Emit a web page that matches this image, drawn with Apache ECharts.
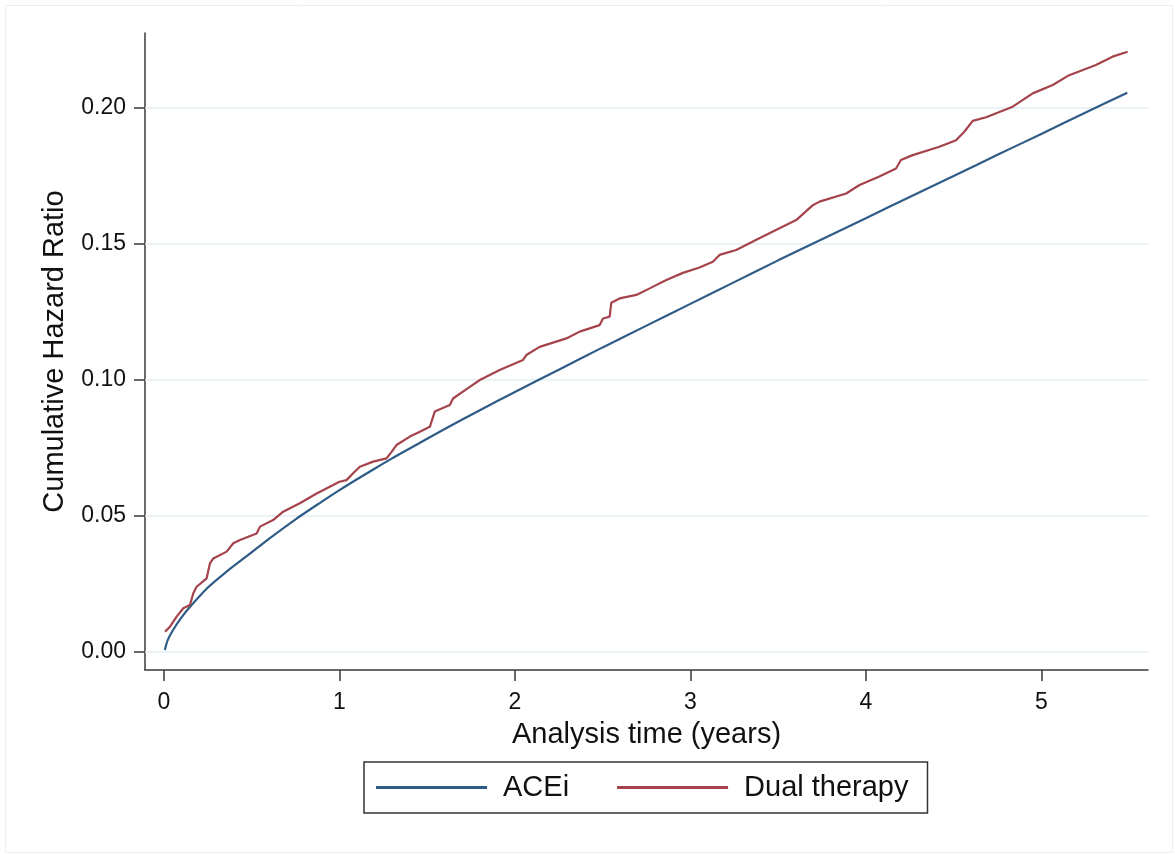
<!DOCTYPE html>
<html>
<head>
<meta charset="utf-8">
<script src="https://cdn.jsdelivr.net/npm/echarts@6/dist/echarts.min.js"></script>
<style>
html,body{margin:0;padding:0;background:#fff;}
#chart{width:1175px;height:855px;}
</style>
</head>
<body>
<div id="chart"></div>
<script>
// Tick labels
var xTicks = [0, 1, 2, 3, 4, 5];
var yTicks = [0, 0.05, 0.10, 0.15, 0.20];

// ACEi (smooth curve)
var aceiT = [0.005, 0.02, 0.05, 0.1, 0.15, 0.25, 0.35, 0.45, 0.6, 0.75, 0.9, 1.0, 1.1, 1.2, 1.3, 1.45, 1.6, 1.8, 2.0, 2.25, 2.5, 2.75, 3.0, 3.25, 3.5, 3.75, 4.0, 4.25, 4.5, 4.75, 5.0, 5.25, 5.49];
var aceiV = [0.0007, 0.0042, 0.0079, 0.0127, 0.0167, 0.0237, 0.0292, 0.0342, 0.0417, 0.0488, 0.0553, 0.0595, 0.0635, 0.0674, 0.0712, 0.0766, 0.0820, 0.0889, 0.0956, 0.1038, 0.1120, 0.1200, 0.1280, 0.1360, 0.1440, 0.1518, 0.1595, 0.1673, 0.1750, 0.1828, 0.1905, 0.1983, 0.2056];

// Dual therapy (stepwise estimate)
var dualT = [0.006, 0.034, 0.072, 0.11, 0.148, 0.167, 0.186, 0.243, 0.262, 0.281, 0.357, 0.395, 0.433, 0.528, 0.547, 0.622, 0.679, 0.774, 0.87, 0.964, 1.0, 1.04, 1.078, 1.116, 1.192, 1.268, 1.297, 1.325, 1.401, 1.458, 1.515, 1.543, 1.629, 1.647, 1.743, 1.80, 1.913, 2.046, 2.065, 2.141, 2.293, 2.369, 2.483, 2.502, 2.54, 2.549, 2.597, 2.692, 2.768, 2.863, 2.957, 3.052, 3.128, 3.166, 3.261, 3.39, 3.508, 3.603, 3.698, 3.736, 3.888, 3.964, 4.077, 4.172, 4.2, 4.267, 4.419, 4.514, 4.561, 4.609, 4.685, 4.837, 4.951, 5.065, 5.159, 5.311, 5.406, 5.492];
var dualV = [0.0075, 0.0093, 0.0130, 0.0161, 0.0173, 0.0216, 0.0240, 0.0271, 0.0326, 0.0344, 0.0369, 0.0400, 0.0412, 0.0436, 0.0461, 0.0485, 0.0516, 0.0547, 0.0583, 0.0614, 0.0626, 0.0632, 0.0657, 0.0681, 0.0700, 0.0712, 0.0736, 0.0761, 0.0792, 0.0810, 0.0828, 0.0884, 0.0908, 0.0932, 0.0975, 0.1000, 0.1037, 0.1074, 0.1092, 0.1122, 0.1153, 0.1178, 0.1202, 0.1226, 0.1233, 0.1284, 0.1300, 0.1313, 0.1337, 0.1368, 0.1394, 0.1414, 0.1435, 0.1460, 0.1478, 0.1520, 0.1558, 0.1588, 0.1643, 0.1656, 0.1686, 0.1717, 0.1748, 0.1778, 0.1809, 0.1827, 0.1858, 0.1882, 0.1913, 0.1953, 0.1966, 0.2005, 0.2054, 0.2085, 0.2121, 0.2158, 0.2189, 0.2207];

function pairs(t, v) { return t.map(function (x, i) { return [x, v[i]]; }); }

var FONT = 'Liberation Sans, Arial, sans-serif';
var chart = echarts.init(document.getElementById('chart'), null, {renderer: 'canvas'});
chart.setOption({
  backgroundColor: '#ffffff',
  animation: false,
  textStyle: {fontFamily: FONT, color: '#111'},
  graphic: [{
    type: 'rect', left: 3, top: 3, shape: {width: 1167, height: 847},
    style: {fill: 'none', stroke: '#eeeeee', lineWidth: 1}, silent: true, z: 0
  }],
  grid: {left: 145, right: 27, top: 33, bottom: 185, containLabel: false},
  xAxis: {
    type: 'value', min: -0.1083, max: 5.608,
    name: 'Analysis time (years)', nameLocation: 'middle', nameGap: 50,
    nameTextStyle: {fontSize: 29, color: '#111', fontFamily: FONT},
    axisLine: {show: true, onZero: false, lineStyle: {color: '#3a3a3a', width: 1.5}},
    axisTick: {show: true, customValues: xTicks, length: 11, lineStyle: {color: '#3a3a3a', width: 1.5}},
    axisLabel: {show: true, customValues: xTicks, fontSize: 23, color: '#111', margin: 21, fontFamily: FONT,
      formatter: function (v) { return String(v); }},
    splitLine: {show: false}
  },
  yAxis: {
    type: 'value', min: -0.00662, max: 0.2276,
    name: 'Cumulative Hazard Ratio', nameLocation: 'middle', nameGap: 76, nameRotate: 90,
    nameTextStyle: {fontSize: 29, color: '#111', fontFamily: FONT},
    axisLine: {show: true, onZero: false, lineStyle: {color: '#3a3a3a', width: 1.5}},
    axisTick: {show: true, customValues: yTicks, length: 11, lineStyle: {color: '#3a3a3a', width: 1.5}},
    axisLabel: {show: true, customValues: yTicks, fontSize: 23, color: '#111', margin: 19, fontFamily: FONT,
      formatter: function (v) { return v.toFixed(2); }},
    splitLine: {show: false}
  },
  legend: {
    show: true, left: 364, top: 762, orient: 'horizontal',
    padding: [11, 19, 11, 12], itemGap: 48, itemWidth: 111, itemHeight: 3,
    borderColor: '#333', borderWidth: 1.5, backgroundColor: '#fff',
    textStyle: {fontSize: 29, color: '#111', fontFamily: FONT, padding: [0, 0, 0, 11]},
    data: [{name: 'ACEi', icon: 'rect'}, {name: 'Dual therapy', icon: 'rect'}]
  },
  series: [
    {
      name: 'ACEi', type: 'line', data: pairs(aceiT, aceiV), showSymbol: false, symbol: 'none',
      smooth: 0.3,
      lineStyle: {color: '#2e5c87', width: 2.2}, itemStyle: {color: '#2e5c87'}, z: 3,
      markLine: {
        silent: true, symbol: 'none', label: {show: false},
        lineStyle: {color: '#e4eef2', width: 1.5, type: 'solid'},
        data: yTicks.map(function (v) { return {yAxis: v}; }),
        z: 1
      }
    },
    {
      name: 'Dual therapy', type: 'line', data: pairs(dualT, dualV), showSymbol: false, symbol: 'none',
      lineStyle: {color: '#a4434b', width: 2.2}, itemStyle: {color: '#a4434b'}, z: 4
    }
  ]
});
</script>
</body>
</html>
